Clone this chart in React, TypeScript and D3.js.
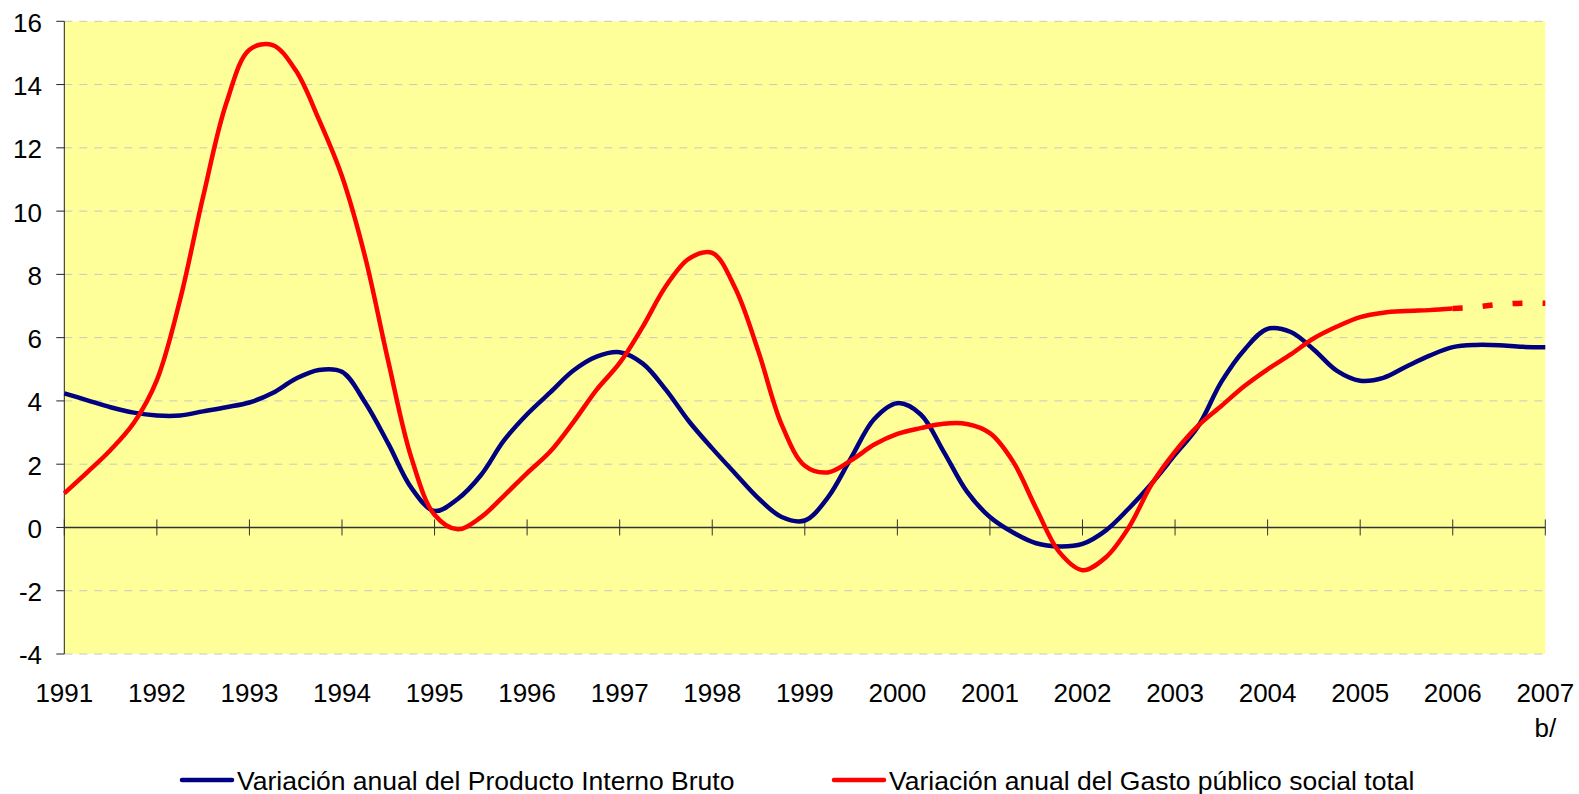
import { useEffect, useRef } from "react";
import * as d3 from "d3";

// quarterly points, 1991.00 .. 2007.00
const quarters: number[] = d3.range(0, 65).map((i) => 1991 + i / 4);

const pibValues = [
  4.24, 4.02, 3.8, 3.63,
  3.54, 3.54, 3.67, 3.8,
  3.95, 4.25, 4.7, 4.98,
  4.92, 3.95, 2.65, 1.25,
  0.52, 0.9, 1.65, 2.75,
  3.58, 4.27, 4.96, 5.4,
  5.54, 5.18, 4.35, 3.35,
  2.5, 1.7, 0.92, 0.33,
  0.22, 0.95, 2.2, 3.43,
  3.93, 3.58, 2.4, 1.14,
  0.33, -0.16, -0.5, -0.6,
  -0.52, -0.1, 0.6, 1.4,
  2.3, 3.2, 4.6, 5.62,
  6.28, 6.18, 5.62, 4.95,
  4.64, 4.73, 5.09, 5.43,
  5.7, 5.77, 5.76, 5.71,
  5.7,
];

// solid part 1991.00 .. 2006.00
const gastoValues = [
  1.08, 1.75, 2.45, 3.3,
  4.66, 7.19, 10.46, 13.41,
  15.1, 15.25, 14.45, 12.9,
  11.1, 8.55, 5.25, 2.2,
  0.4, -0.06, 0.32, 1.0,
  1.72, 2.4, 3.33, 4.35,
  5.2, 6.35, 7.63, 8.5,
  8.68, 7.55, 5.55, 3.25,
  1.95, 1.74, 2.12, 2.62,
  2.96, 3.14, 3.28, 3.27,
  2.98, 2.08, 0.6, -0.78,
  -1.35, -0.95, 0.0, 1.38,
  2.4, 3.22, 3.84, 4.47,
  5.0, 5.47, 5.98, 6.35,
  6.65, 6.79, 6.84, 6.87,
  6.92,
];

// dashed estimate 2006.00 .. 2007.00
const gastoEstimate = [6.92, 6.97, 7.05, 7.09, 7.09];

const yearTicks = d3.range(1991, 2008);
const yTicks = d3.range(-4, 17, 2);

const legendItems = [
  { label: "Variación anual del Producto Interno Bruto", color: "#000080" },
  { label: "Variación anual del Gasto público social total", color: "#FF0000" },
];

export default function App() {
  const svgRef = useRef<SVGSVGElement | null>(null);

  useEffect(() => {
    if (!svgRef.current) return;
    const width = 1579;
    const height = 794;
    const font = "'Liberation Sans', Arial, sans-serif";

    const svg = d3.select(svgRef.current);
    svg.selectAll("*").remove();

    const x = d3.scaleLinear().domain([1991, 2007]).range([64.3, 1545.3]);
    const y = d3.scaleLinear().domain([-4, 16]).range([654, 21.3]);

    // plot background
    svg
      .append("rect")
      .attr("x", x(1991))
      .attr("y", y(16))
      .attr("width", x(2007) - x(1991))
      .attr("height", y(-4) - y(16))
      .attr("fill", "#FFFF99");

    // gridlines
    svg
      .append("g")
      .selectAll("line")
      .data(yTicks.filter((d) => d !== 0))
      .join("line")
      .attr("x1", x(1991))
      .attr("x2", x(2007))
      .attr("y1", (d) => y(d))
      .attr("y2", (d) => y(d))
      .attr("stroke", "#c8c8c0")
      .attr("stroke-width", 1)
      .attr("stroke-dasharray", "8,7");

    // y axis
    const yAxis = svg.append("g");
    yAxis
      .append("line")
      .attr("x1", x(1991))
      .attr("x2", x(1991))
      .attr("y1", y(16))
      .attr("y2", y(-4))
      .attr("stroke", "#222")
      .attr("stroke-width", 1);
    yAxis
      .selectAll("line.tick")
      .data(yTicks)
      .join("line")
      .attr("class", "tick")
      .attr("x1", x(1991) - 8)
      .attr("x2", x(1991))
      .attr("y1", (d) => y(d))
      .attr("y2", (d) => y(d))
      .attr("stroke", "#222");
    yAxis
      .selectAll("text")
      .data(yTicks)
      .join("text")
      .attr("x", 42)
      .attr("y", (d) => y(d))
      .attr("dy", "0.4em")
      .attr("text-anchor", "end")
      .attr("font-family", font)
      .attr("font-size", 26)
      .text((d) => String(d));

    // x axis on zero line
    const xAxis = svg.append("g");
    xAxis
      .append("line")
      .attr("x1", x(1991))
      .attr("x2", x(2007))
      .attr("y1", y(0))
      .attr("y2", y(0))
      .attr("stroke", "#333")
      .attr("stroke-width", 1.5);
    xAxis
      .selectAll("line.tick")
      .data(yearTicks)
      .join("line")
      .attr("class", "tick")
      .attr("x1", (d) => x(d))
      .attr("x2", (d) => x(d))
      .attr("y1", y(0) - 8)
      .attr("y2", y(0) + 8)
      .attr("stroke", "#333");
    xAxis
      .selectAll("text")
      .data(yearTicks)
      .join("text")
      .attr("x", (d) => x(d))
      .attr("y", 702)
      .attr("text-anchor", "middle")
      .attr("font-family", font)
      .attr("font-size", 26)
      .text((d) => String(d));
    svg
      .append("text")
      .attr("x", x(2007))
      .attr("y", 737)
      .attr("text-anchor", "middle")
      .attr("font-family", font)
      .attr("font-size", 26)
      .text("b/");

    const line = d3
      .line<[number, number]>()
      .x((d) => x(d[0]))
      .y((d) => y(d[1]))
      .curve(d3.curveCatmullRom.alpha(0.5));

    const pib = quarters.map((q, i) => [q, pibValues[i]] as [number, number]);
    const gasto = gastoValues.map((v, i) => [quarters[i], v] as [number, number]);
    const gastoEst = gastoEstimate.map((v, i) => [2006 + i / 4, v] as [number, number]);

    svg
      .append("path")
      .attr("d", line(pib))
      .attr("fill", "none")
      .attr("stroke", "#000080")
      .attr("stroke-width", 4.5)
      .attr("stroke-linejoin", "round");

    svg
      .append("path")
      .attr("d", line(gasto))
      .attr("fill", "none")
      .attr("stroke", "#FF0000")
      .attr("stroke-width", 4.5)
      .attr("stroke-linejoin", "round");

    svg
      .append("path")
      .attr("d", line(gastoEst))
      .attr("fill", "none")
      .attr("stroke", "#FF0000")
      .attr("stroke-width", 5.5)
      .attr("stroke-dasharray", "10,20");

    // legend
    const legendX = [182, 834];
    legendItems.forEach((item, i) => {
      const g = svg.append("g").attr("transform", `translate(${legendX[i]},780)`);
      g.append("line")
        .attr("x1", 0)
        .attr("x2", 50)
        .attr("y1", 0)
        .attr("y2", 0)
        .attr("stroke", item.color)
        .attr("stroke-width", 4.5)
        .attr("stroke-linecap", "round");
      g.append("text")
        .attr("x", 55)
        .attr("y", 9.5)
        .attr("font-family", font)
        .attr("font-size", 26.5)
        .text(item.label);
    });
    svg.attr("width", width).attr("height", height);
  }, []);

  return (
    <svg
      ref={svgRef}
      width={1579}
      height={794}
      style={{ position: "absolute", left: 0, top: 0, background: "#fff" }}
    ></svg>
  );
}
